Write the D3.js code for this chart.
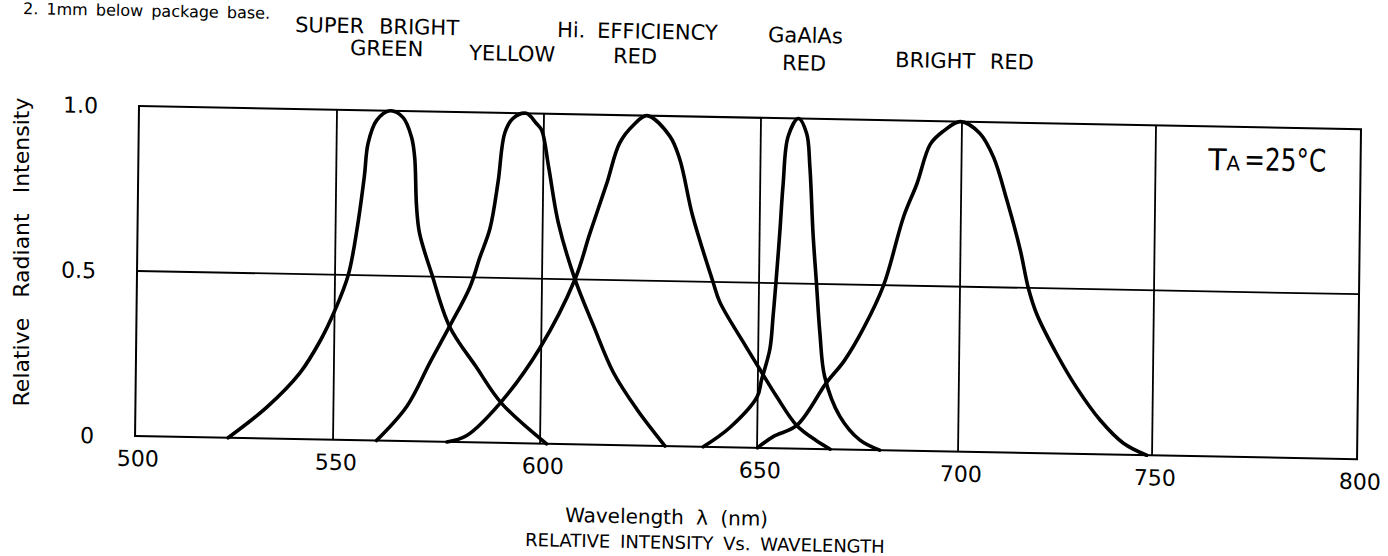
<!DOCTYPE html>
<html lang="en">
<head>
<meta charset="utf-8">
<script src="https://d3js.org/d3.v7.min.js"></script>
<style>
  body { margin: 0; background: #fff; }
  svg { display: block; font-family: "DejaVu Sans", sans-serif; }
</style>
</head>
<body>
<script>
// [wavelength nm, relative radiant intensity]
var superBrightGreen = [[523.5,0],[533.2,0.095],[541.4,0.2],[546.5,0.3],[550,0.39],[553.2,0.5],[555.3,0.65],[556.8,0.8],[557.6,0.9],[559.6,0.97],[562.8,1.0],[566,0.98],[568.1,0.92],[568.9,0.86],[569.5,0.71],[570.3,0.63],[573.3,0.51],[577.8,0.35],[584.3,0.23],[590.6,0.12],[601.5,0]];
var yellow = [[560.5,0],[567.7,0.105],[573.2,0.24],[577.8,0.35],[582.6,0.47],[584.9,0.56],[587.3,0.65],[589.1,0.79],[590.6,0.94],[592.6,0.985],[595.7,1.0],[598.2,0.97],[599.5,0.95],[601.2,0.84],[603.6,0.67],[607.6,0.5],[612,0.36],[616.7,0.22],[622.2,0.11],[628.8,0]];
var hiEffRed = [[577.5,0],[582.2,0.02],[590.2,0.12],[599.7,0.29],[607.6,0.5],[610.9,0.64],[614.6,0.79],[617.5,0.915],[620.6,0.97],[623.7,1.0],[629,0.94],[631.4,0.87],[634.5,0.7],[639.4,0.5],[641,0.44],[646.5,0.32],[650.1,0.245],[654.8,0.155],[659.8,0.07],[664.5,0.027],[668.2,0]];
var gaalasRed = [[637.6,0],[643.7,0.06],[649.9,0.155],[650.9,0.205],[652.9,0.3],[653.6,0.4],[654.2,0.5],[655,0.65],[655.7,0.8],[656.8,0.945],[659.3,1.0],[661.4,0.955],[662.3,0.855],[663.3,0.65],[664.3,0.5],[665.3,0.35],[666.6,0.22],[670.5,0.1],[675.5,0.03],[680.5,0]];
var brightRed = [[650.1,0],[654,0.035],[659.8,0.07],[667,0.2],[671.5,0.27],[676.2,0.37],[681,0.5],[685.8,0.71],[689,0.81],[692.2,0.93],[695.4,0.97],[699.6,1.0],[704.6,0.966],[708.2,0.895],[711.8,0.765],[715.4,0.615],[717.6,0.5],[719.9,0.42],[725.2,0.3],[730.4,0.2],[736.5,0.104],[742.6,0.035],[748.6,0]];

var wlTicks = [500, 550, 600, 650, 700, 750, 800];
var wlTickLabels = ["500", "550", "600", "650", "700", "750", "800"];
var intTicks = [0, 0.5, 1];
var intTickLabels = ["0", "0.5", "1.0"];

var W = 1388, H = 556;
var plotW = 1222, plotH = 330;

var svg = d3.select("body").append("svg")
    .attr("width", W)
    .attr("height", H);

// grid is hand drafted, spacing between the 50 nm lines is not quite even
var x = d3.scaleLinear()
    .domain(wlTicks)
    .range([0, 198, 405, 622, 823, 1017, 1222]);
var y = d3.scaleLinear()
    .domain([0, 1])
    .range([plotH, 0]);

// scan is a little skewed
var plot = svg.append("g")
    .attr("transform", "matrix(1,0.019,-0.012,1,139,106)");

plot.append("rect")
    .attr("width", plotW)
    .attr("height", plotH)
    .attr("fill", "none")
    .attr("stroke", "#000")
    .attr("stroke-width", 2);

plot.selectAll(".vgrid")
    .data(wlTicks.slice(1, -1))
    .enter().append("line")
    .attr("x1", function(d) { return x(d); })
    .attr("x2", function(d) { return x(d); })
    .attr("y1", 0)
    .attr("y2", plotH)
    .attr("stroke", "#000")
    .attr("stroke-width", 1.8);

plot.append("line")
    .attr("x1", 0).attr("x2", plotW)
    .attr("y1", y(0.5)).attr("y2", y(0.5))
    .attr("stroke", "#000")
    .attr("stroke-width", 1.8);

plot.selectAll(".xlab")
    .data(wlTicks)
    .enter().append("text")
    .attr("x", function(d) { return x(d) + 3; })
    .attr("y", plotH + 30)
    .attr("text-anchor", "middle")
    .attr("font-size", 22)
    .text(function(d, i) { return wlTickLabels[i]; });

plot.selectAll(".ylab")
    .data(intTicks)
    .enter().append("text")
    .attr("x", -41)
    .attr("y", function(d) { return y(d) + 8; })
    .attr("text-anchor", "end")
    .attr("font-size", 22)
    .text(function(d, i) { return intTickLabels[i]; });

var line = d3.line()
    .x(function(d) { return x(d[0]); })
    .y(function(d) { return y(d[1]); })
    .curve(d3.curveCatmullRom.alpha(0.5));

[superBrightGreen, yellow, hiEffRed, gaalasRed, brightRed].forEach(function(s) {
  plot.append("path")
      .attr("d", line(s))
      .attr("fill", "none")
      .attr("stroke", "#000")
      .attr("stroke-width", 3.6)
      .attr("stroke-linejoin", "round")
      .attr("stroke-linecap", "round");
});

// labels above / around the plot
function label(txt, px, py, size, extra) {
  var t = svg.append("text")
      .attr("transform", "translate(" + px + "," + py + ") rotate(1.1)")
      .attr("font-size", size)
      .attr("word-spacing", extra || 0)
      .text(txt);
  return t;
}

label("2.  1mm below package base.", 23, 14, 16, 3);
label("SUPER BRIGHT", 295, 32, 21, 8);
label("GREEN", 350, 55, 21);
label("YELLOW", 469, 60, 21);
label("Hi. EFFICIENCY", 557, 37, 21, 5);
label("RED", 613, 63, 21);
label("GaAlAs", 768, 42, 21);
label("RED", 782, 70, 21);
label("BRIGHT RED", 895, 67, 21, 8);

var ta = svg.append("text")
    .attr("transform", "translate(1208,170) rotate(1.1)")
    .attr("font-size", 30);
ta.append("tspan").text("T");
ta.append("tspan").attr("font-size", 20).text("A");
svg.append("text")
    .attr("transform", "translate(1244,170) rotate(1.1) scale(0.8,1)")
    .attr("font-size", 31)
    .text("=25°C");

label("Wavelength  λ (nm)", 565, 522, 20, 6);
label("RELATIVE INTENSITY Vs. WAVELENGTH", 525, 546, 18, 4);

svg.append("text")
    .attr("transform", "translate(29,252) rotate(-90)")
    .attr("text-anchor", "middle")
    .attr("font-size", 22)
    .attr("word-spacing", 13)
    .text("Relative Radiant Intensity");
</script>
</body>
</html>
